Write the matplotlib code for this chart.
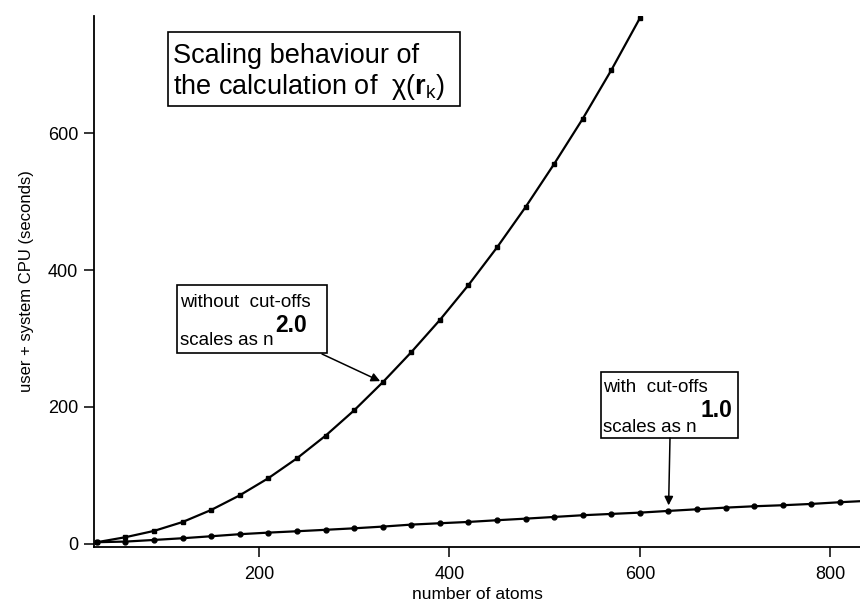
import matplotlib.pyplot as plt
from matplotlib.patches import Rectangle

plt.rcParams['font.family'] = ['Liberation Sans', 'DejaVu Sans']
plt.rcParams['mathtext.fontset'] = 'custom'
plt.rcParams['mathtext.rm'] = 'Liberation Sans'
plt.rcParams['mathtext.bf'] = 'Liberation Sans:bold'

# number of atoms
atoms_nocut = [30, 60, 90, 120, 150, 180, 210, 240, 270, 300,
               330, 360, 390, 420, 450, 480, 510, 540, 570, 600]
atoms_cut = [30, 60, 90, 120, 150, 180, 210, 240, 270, 300,
             330, 360, 390, 420, 450, 480, 510, 540, 570, 600,
             630, 660, 690, 720, 750, 780, 810, 840]

# CPU time (seconds)
cpu_nocut = [2.5, 9.8, 19, 32, 49.6, 71, 96, 125, 158, 195,
             236, 280, 327, 378, 433, 492, 555, 621, 692, 768]
cpu_cut = [2.5, 3.4, 5.8, 8.3, 11.2, 14.2, 16.5, 18.5, 20.6, 22.8,
           25.3, 28.2, 30.2, 32.1, 34.6, 36.9, 39.4, 41.9, 43.8, 45.7,
           48.2, 50.6, 53.0, 55.0, 56.5, 58.4, 60.9, 63.0]

W, H = 860, 607
fig = plt.figure(figsize=(W / 100, H / 100), dpi=100)
ax = fig.add_axes([94 / W, 1 - 547 / H, 1 - 94 / W, (547 - 16) / H])


def fx(px):
    return px / W


def fy(py):
    return 1 - py / H


ax.plot(atoms_nocut, cpu_nocut, color='black', lw=1.6, marker='s', ms=3.5)
ax.plot(atoms_cut, cpu_cut, color='black', lw=1.6, marker='o', ms=3.5)

ax.set_xlim(27, 831)
ax.set_ylim(-4.5, 771)
ax.set_xticks([200, 400, 600, 800])
ax.set_yticks([0, 200, 400, 600])
ax.spines['top'].set_visible(False)
ax.spines['right'].set_visible(False)
for s in ['left', 'bottom']:
    ax.spines[s].set_linewidth(1.3)
ax.tick_params(direction='out', length=7.5, width=1.1, labelsize=13)
ax.tick_params(axis='x', pad=6)
ax.tick_params(axis='y', pad=4)
ax.set_xlabel('number of atoms', fontsize=12.5, labelpad=3)
ax.set_ylabel('user + system CPU (seconds)', fontsize=12, labelpad=10)

# title box
fig.patches.append(Rectangle((fx(168), fy(106)), fx(460) - fx(168), fy(32) - fy(106),
                             transform=fig.transFigure, fill=False, lw=1.2, color='black'))
fig.text(fx(173), fy(63), 'Scaling behaviour of', fontsize=19.5)
fig.text(fx(173), fy(94), r'the calculation of  χ($\mathbf{r}_\mathrm{k}$)', fontsize=19.5)

# box without cut-offs
fig.patches.append(Rectangle((fx(177), fy(353)), fx(327) - fx(177), fy(285) - fy(353),
                             transform=fig.transFigure, fill=False, lw=1.2, color='black'))
fig.text(fx(180), fy(307), 'without  cut-offs', fontsize=13.5)
fig.text(fx(180), fy(345), 'scales as n', fontsize=13.5)
fig.text(fx(275), fy(332), '2.0', fontsize=16.5, fontweight='bold')
ax.annotate('', xy=(atoms_nocut[10], cpu_nocut[10]), xytext=(322, H - 354),
            textcoords='figure pixels',
            arrowprops=dict(arrowstyle='-|>', color='black', lw=1.1,
                            mutation_scale=13, shrinkA=0, shrinkB=2))

# box with cut-offs
fig.patches.append(Rectangle((fx(601), fy(438)), fx(738) - fx(601), fy(372) - fy(438),
                             transform=fig.transFigure, fill=False, lw=1.2, color='black'))
fig.text(fx(603), fy(392), 'with  cut-offs', fontsize=13.5)
fig.text(fx(603), fy(432), 'scales as n', fontsize=13.5)
fig.text(fx(700), fy(417), '1.0', fontsize=16.5, fontweight='bold')
ax.annotate('', xy=(atoms_cut[20], cpu_cut[20]), xytext=(670, H - 438),
            textcoords='figure pixels',
            arrowprops=dict(arrowstyle='-|>', color='black', lw=1.1,
                            mutation_scale=13, shrinkA=0, shrinkB=4))

fig.savefig('out.png', dpi=100)
